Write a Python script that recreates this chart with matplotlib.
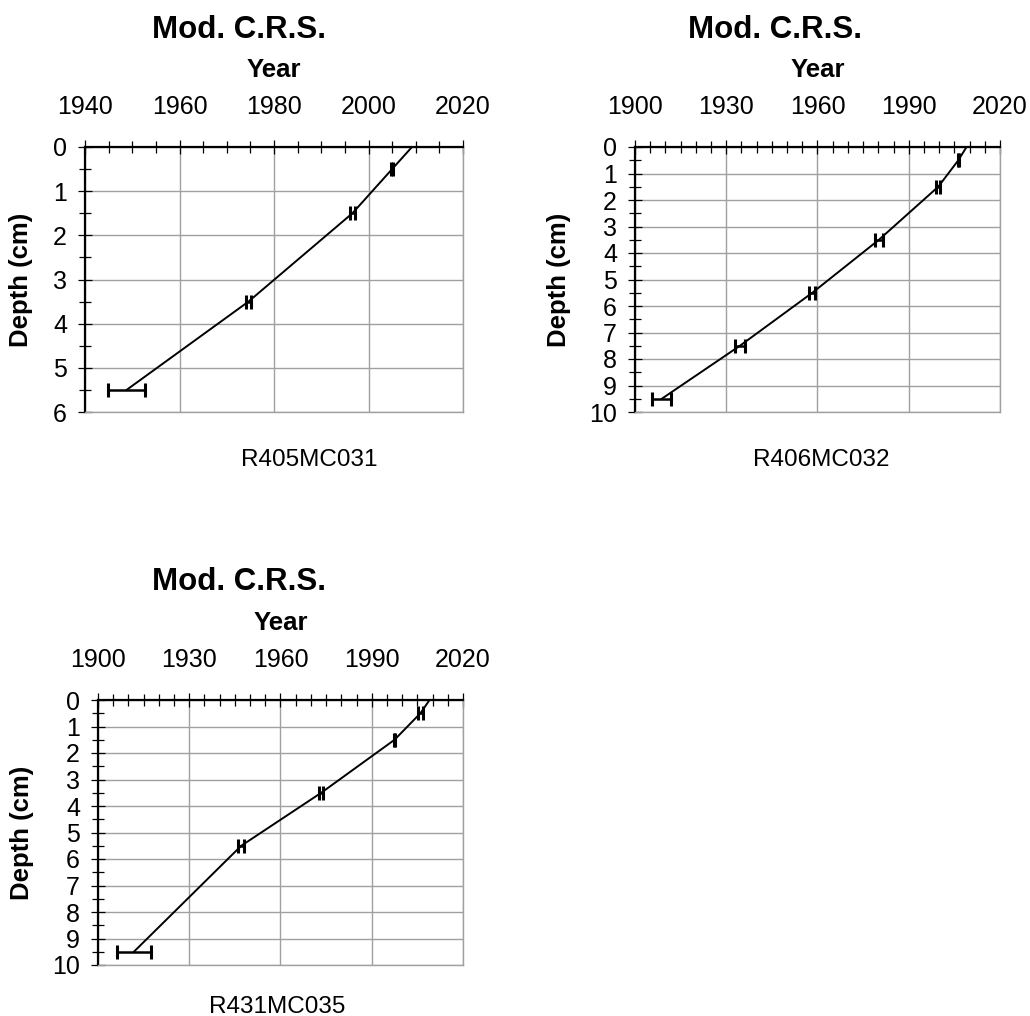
import matplotlib
matplotlib.use("Agg")
import matplotlib.pyplot as plt
from matplotlib.ticker import MultipleLocator
import numpy as np

plt.rcParams['font.family'] = ['Liberation Sans', 'DejaVu Sans']

# Modified CRS age model, three cores.
# first entry of each series is the surface (depth 0), no date/error there
yr_031 = [2009.2, 2005.0, 1996.6, 1974.6, 1948.8]
dep_031 = [0.0, 0.5, 1.5, 3.5, 5.5]
err_031 = [0.0, 0.2, 0.5, 0.5, 4.0]

yr_032 = [2009.0, 2006.3, 1999.7, 1980.2, 1958.3, 1934.5, 1908.8]
dep_032 = [0.0, 0.5, 1.5, 3.5, 5.5, 7.5, 9.5]
err_032 = [0.0, 0.2, 0.7, 1.3, 1.0, 1.6, 3.2]

yr_035 = [2009.0, 2006.0, 1997.5, 1973.4, 1947.1, 1911.8]
dep_035 = [0.0, 0.5, 1.5, 3.5, 5.5, 9.5]
err_035 = [0.0, 0.8, 0.3, 0.7, 1.0, 5.5]

W, H = 1030, 1016
fig = plt.figure(figsize=(W / 100, H / 100), dpi=100)


def box(left, top, right, bottom):
    return [left / W, 1 - bottom / H, (right - left) / W, (bottom - top) / H]


def core(rect, years, depths, errs, x0, x1, xstep, ymax, ylab_x, name, name_xy, title_xy):
    ax = fig.add_axes(box(*rect))
    ax.plot(years, depths, color='black', lw=1.4, zorder=3)
    ax.errorbar(years[1:], depths[1:], xerr=errs[1:], fmt='none', ecolor='black',
                elinewidth=1.8, capsize=5, capthick=2.2, zorder=4)
    ax.set_xlim(x0, x1)
    ax.set_ylim(ymax, 0)

    ax.xaxis.tick_top()
    ax.xaxis.set_label_position('top')
    ax.yaxis.tick_left()
    ax.set_xticks(np.arange(x0, x1 + 1, xstep))
    ax.xaxis.set_minor_locator(MultipleLocator(5))
    ax.yaxis.set_major_locator(MultipleLocator(1))
    ax.yaxis.set_minor_locator(MultipleLocator(0.5))
    ax.tick_params(which='major', direction='inout', length=10, width=0.9,
                   labelsize=18, color='black')
    ax.tick_params(which='minor', direction='inout', length=8, width=0.9, color='black')
    ax.tick_params(axis='x', which='major', pad=15)
    ax.tick_params(axis='y', which='major', pad=8)

    ax.grid(True, which='major', color='#a0a0a0', lw=1.0, zorder=0)
    ax.set_axisbelow(True)
    for s in ('top', 'left'):
        ax.spines[s].set_color('black')
        ax.spines[s].set_linewidth(1.6)
    for s in ('bottom', 'right'):
        ax.spines[s].set_color('#a0a0a0')
        ax.spines[s].set_linewidth(1.0)

    ax.set_xlabel('Year', fontsize=18.5, fontweight='bold')
    ax.xaxis.set_label_coords(0.5, 1.265)
    ax.set_ylabel('Depth (cm)', fontsize=18.5, fontweight='bold')
    ax.yaxis.set_label_coords(ylab_x, 0.5)

    fig.text(title_xy[0] / W, 1 - title_xy[1] / H, 'Mod. C.R.S.', ha='center',
             va='baseline', fontsize=22.5, fontweight='bold')
    fig.text(name_xy[0] / W, 1 - name_xy[1] / H, name, ha='center',
             va='baseline', fontsize=17.5)
    return ax


core((85, 147, 463, 412), yr_031, dep_031, err_031, 1940, 2020, 20, 6, -0.1376,
     'R405MC031', (309, 466), (238.5, 38.3))
core((635, 147, 1000, 412), yr_032, dep_032, err_032, 1900, 2020, 30, 10, -0.175,
     'R406MC032', (821.5, 466), (775, 38.3))
core((98, 700, 463, 965), yr_035, dep_035, err_035, 1900, 2020, 30, 10, -0.175,
     'R431MC035', (277.5, 1012.7), (238.5, 590))

fig.savefig('out.png', dpi=100)
